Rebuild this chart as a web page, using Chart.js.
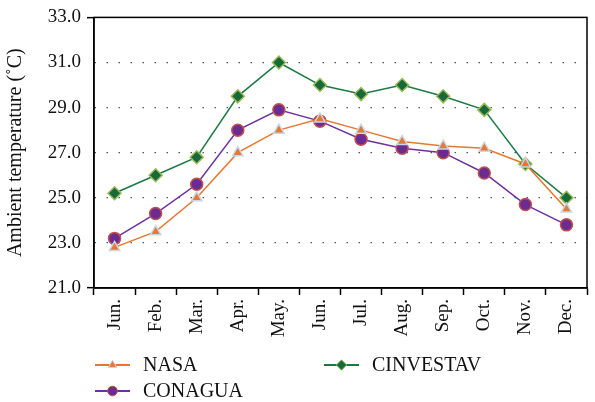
<!DOCTYPE html>
<html>
<head>
<meta charset="utf-8">
<script src="https://cdn.jsdelivr.net/npm/chart.js@4"></script>
<style>
  html, body { margin: 0; padding: 0; background: #fff; }
  #wrap { width: 595px; height: 402px; position: relative; }
</style>
</head>
<body>
<div id="wrap"><canvas id="myChart" width="595" height="402"></canvas></div>
<script>
const months = ['Jun.', 'Feb.', 'Mar.', 'Apr.', 'May.', 'Jun.', 'Jul.', 'Aug.', 'Sep.', 'Oct.', 'Nov.', 'Dec.'];
const nasa = [22.8, 23.5, 25.0, 27.0, 28.0, 28.5, 28.0, 27.5, 27.3, 27.2, 26.5, 24.5];
const conagua = [23.2, 24.3, 25.6, 28.0, 28.9, 28.4, 27.6, 27.2, 27.0, 26.1, 24.7, 23.8];
const cinvestav = [25.2, 26.0, 26.8, 29.5, 31.0, 30.0, 29.6, 30.0, 29.5, 28.9, 26.5, 25.0];

const serif = '"Liberation Serif", "DejaVu Serif", serif';

// box around the plot area + legend in two columns below
const framePlugin = {
    id: 'frame',
    afterDraw(chart) {
        const ctx = chart.ctx;
        const a = chart.chartArea;
        ctx.save();
        ctx.setLineDash([]);
        ctx.strokeStyle = '#000';
        ctx.lineWidth = 1.5;
        ctx.strokeRect(a.left, a.top, a.right - a.left, a.bottom - a.top);

        const spots = [
            { ds: 0, x: 95, y: 365 },
            { ds: 2, x: 324, y: 365 },
            { ds: 1, x: 95, y: 391 }
        ];
        ctx.font = '20px ' + serif;
        ctx.textBaseline = 'middle';
        spots.forEach((s) => {
            const d = chart.data.datasets[s.ds];
            ctx.strokeStyle = d.borderColor;
            ctx.lineWidth = 2;
            ctx.beginPath();
            ctx.moveTo(s.x, s.y);
            ctx.lineTo(s.x + 35, s.y);
            ctx.stroke();
            ctx.fillStyle = d.pointBackgroundColor;
            ctx.strokeStyle = d.pointBorderColor;
            ctx.lineWidth = 1;
            Chart.helpers.drawPoint(ctx, {
                pointStyle: d.pointStyle,
                radius: d.pointRadius * 0.8,
                borderWidth: 1
            }, s.x + 17.5, s.y);
            ctx.fillStyle = '#111';
            ctx.fillText(d.label, s.x + 48, s.y + 1);
        });
        ctx.restore();
    }
};

const ctx = document.getElementById('myChart');

new Chart(ctx, {
    type: 'line',
    data: {
        labels: months,
        datasets: [{
            label: 'NASA',
            data: nasa,
            borderColor: '#e8782f',
            borderWidth: 1.5,
            pointStyle: 'triangle',
            pointRadius: 6,
            pointBackgroundColor: '#e8782f',
            pointBorderColor: '#c8d6e8',
            pointBorderWidth: 1.5,
            tension: 0
        }, {
            label: 'CONAGUA',
            data: conagua,
            borderColor: '#7030a0',
            borderWidth: 1.5,
            pointStyle: 'circle',
            pointRadius: 6,
            pointBackgroundColor: '#6a2c91',
            pointBorderColor: '#c0504d',
            pointBorderWidth: 1.5,
            tension: 0
        }, {
            label: 'CINVESTAV',
            data: cinvestav,
            borderColor: '#1b7a42',
            borderWidth: 1.5,
            pointStyle: 'rectRot',
            pointRadius: 6.5,
            pointBackgroundColor: '#17693a',
            pointBorderColor: '#9bbb59',
            pointBorderWidth: 1.5,
            tension: 0
        }]
    },
    options: {
        responsive: false,
        animation: false,
        layout: { padding: { top: 15, right: 2, bottom: 54, left: 0 } },
        plugins: {
            legend: { display: false },
            tooltip: { enabled: false }
        },
        scales: {
            x: {
                offset: true,
                grid: {
                    offset: true,
                    drawOnChartArea: false,
                    drawTicks: true,
                    tickLength: 7,
                    tickWidth: 1.5,
                    color: '#000'
                },
                border: { color: '#000', width: 1.5 },
                ticks: {
                    color: '#111',
                    font: { family: serif, size: 19 },
                    minRotation: 90,
                    maxRotation: 90,
                    autoSkip: false,
                    padding: 4
                },
                afterFit(scale) { scale.height = 60; }
            },
            y: {
                min: 21,
                max: 33,
                ticks: {
                    stepSize: 2,
                    color: '#111',
                    font: { family: serif, size: 19 },
                    padding: 6,
                    callback: (v) => v.toFixed(1)
                },
                grid: {
                    color: (c) => (c.tick.value === 21 || c.tick.value === 33) ? 'rgba(0,0,0,0)' : '#555',
                    lineWidth: 1.3,
                    tickLength: 7,
                    tickColor: (c) => (c.tick.value === 21 || c.tick.value === 33) ? '#000' : 'rgba(0,0,0,0)',
                    tickBorderDash: [],
                    tickWidth: 1.5
                },
                border: { color: '#000', width: 1.5, dash: [1.5, 10.5] },
                title: {
                    display: true,
                    text: 'Ambient temperature (˚C)',
                    color: '#111',
                    font: { family: serif, size: 20 },
                    padding: { bottom: 2 }
                },
                afterFit(scale) { scale.width = 94; }
            }
        }
    },
    plugins: [framePlugin]
});
</script>
</body>
</html>
